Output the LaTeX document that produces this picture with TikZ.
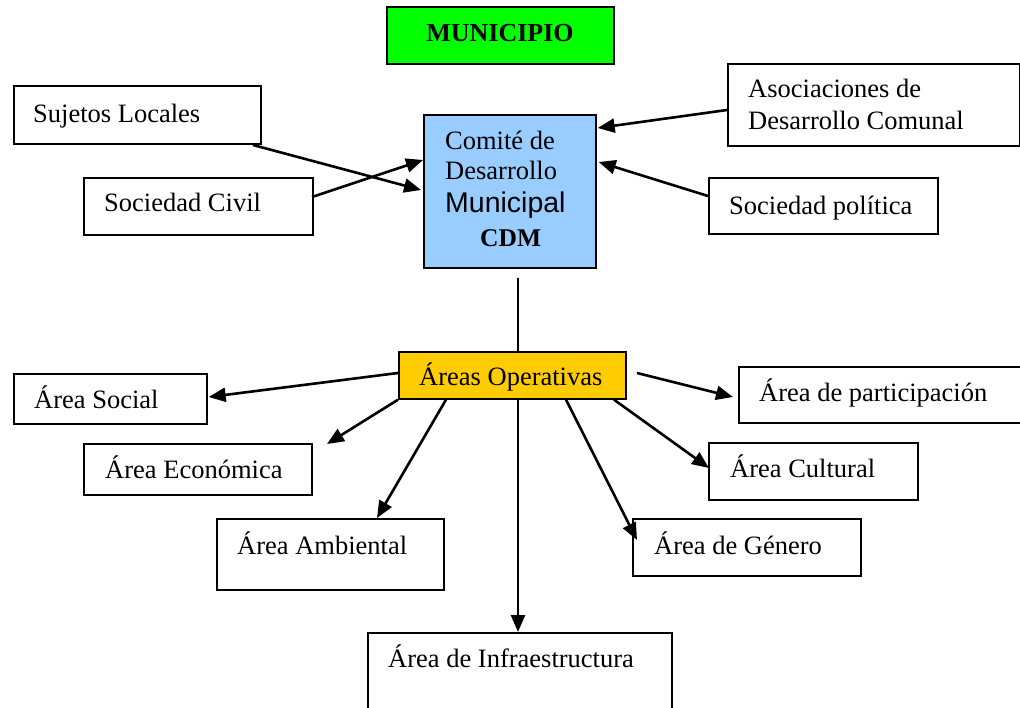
\documentclass[tikz,border=0pt]{standalone}
\usepackage{fontspec}
\setmainfont{Liberation Serif}
\newfontfamily\arialfont{Liberation Sans}
\usetikzlibrary{arrows.meta,calc}
\definecolor{muniGreen}{HTML}{00FF00}
\definecolor{cdmBlue}{HTML}{99CCFF}
\definecolor{opOrange}{HTML}{FFCC00}
\begin{document}
\begin{tikzpicture}[x=1pt,y=-1pt,
  box/.style={draw=black, line width=1.7pt, rectangle, inner sep=0pt, anchor=north west},
  txt/.style={anchor=base west, inner sep=0pt, font=\fontsize{26.5}{30}\selectfont},
  arr/.style={line width=2.6pt, -{Triangle[length=17pt,width=14pt]}},
  link/.style={line width=2.6pt}]
\useasboundingbox (0,0) rectangle (1020,708);

% ---------- upper level ----------
\node[box, fill=muniGreen, minimum width=227pt, minimum height=57pt] (muni) at (386,6) {};
\node[anchor=base, inner sep=0pt, font=\fontsize{26}{30}\selectfont\bfseries] (muniT) at (500,42) {MUNICIPIO};

\node[box, minimum width=247pt, minimum height=58pt] (suj) at (13,85) {};
\node[txt] (sujT) at (33,123) {Sujetos Locales};

\node[box, minimum width=229pt, minimum height=57pt] (civ) at (83,177) {};
\node[txt] (civT) at (104,212) {Sociedad Civil};

\node[box, fill=cdmBlue, minimum width=172pt, minimum height=153pt] (cdm) at (423,114) {};
\node[txt] (cdmT1) at (445,150) {Comité de};
\node[txt] (cdmT2) at (445,180) {Desarrollo};
\node[txt, font=\fontsize{28.5}{32}\selectfont\arialfont] (cdmT3) at (445,213) {Municipal};
\node[txt, font=\fontsize{25.5}{30}\selectfont\bfseries] (cdmT4) at (480,247) {CDM};

\node[box, minimum width=292pt, minimum height=82pt] (aso) at (727,63) {};
\node[txt] (asoT1) at (748,98) {Asociaciones de};
\node[txt] (asoT2) at (748,130) {Desarrollo Comunal};

\node[box, minimum width=229pt, minimum height=56pt] (pol) at (708,177) {};
\node[txt] (polT) at (729,215) {Sociedad política};

% ---------- operative areas ----------
\node[box, fill=opOrange, minimum width=227pt, minimum height=47pt] (ops) at (398,351) {};
\node[txt] (opsT) at (419,386) {Áreas Operativas};

\node[box, minimum width=193pt, minimum height=50pt] (soc) at (13,373) {};
\node[txt] (socT) at (34,409) {Área Social};

\node[box, minimum width=228pt, minimum height=51pt] (eco) at (83,443) {};
\node[txt] (ecoT) at (105,478) {Área Económica};

\node[box, minimum width=227pt, minimum height=71pt] (amb) at (216,518) {};
\node[txt] (ambT) at (237,554) {Área Ambiental};

\node[box, minimum width=304pt, minimum height=90pt] (inf) at (367,632) {};
\node[txt] (infT) at (388,667) {Área de Infraestructura};

\node[box, minimum width=228pt, minimum height=57pt] (gen) at (632,518) {};
\node[txt] (genT) at (654,554) {Área de Género};

\node[box, minimum width=209pt, minimum height=57pt] (cul) at (708,442) {};
\node[txt] (culT) at (730,477) {Área Cultural};

\node[box, minimum width=290pt, minimum height=56pt] (par) at (738,366) {};
\node[txt] (parT) at (759,402) {Área de participación};

% ---------- free connector ends ----------
\coordinate (sujOut) at (253,145);
\coordinate (civOut) at (312,197);
\coordinate (asoOut) at (727,110);
\coordinate (polOut) at (708,196);
\coordinate (cdmLow) at (518,278);
\coordinate (parOut) at (637,373);
\coordinate (ecoIn)  at (327,444);
\coordinate (parIn)  at (733,397);

% ---------- connectors into the committee ----------
\draw[arr] (sujOut) -- ($(cdm.north west)+(-2,76)$);
\draw[arr] (civOut) -- ($(cdm.north west)+(0,46)$);
\draw[arr] (asoOut) -- ($(cdm.north east)+(1,14)$);
\draw[arr] (polOut) -- ($(cdm.north east)+(2,48)$);

% ---------- committee to operative areas ----------
\draw[link] (cdmLow) -- ($(ops.north west)+(120,0)$);

\draw[arr] ($(ops.north west)+(0,22)$) -- ($(soc.north east)+(1,24)$);
\draw[arr] (ops.south west) -- (ecoIn);
\draw[arr] ($(ops.south west)+(48,0)$) -- ($(amb.north west)+(161,0)$);
\draw[arr] ($(ops.south west)+(120,0)$) -- ($(inf.north west)+(151,0)$);
\draw[arr] ($(ops.south west)+(168,0)$) -- ($(gen.north west)+(5,22)$);
\draw[arr] ($(ops.south west)+(216,0)$) -- ($(cul.north west)+(1,26)$);
\draw[arr] (parOut) -- (parIn);
\end{tikzpicture}
\end{document}
